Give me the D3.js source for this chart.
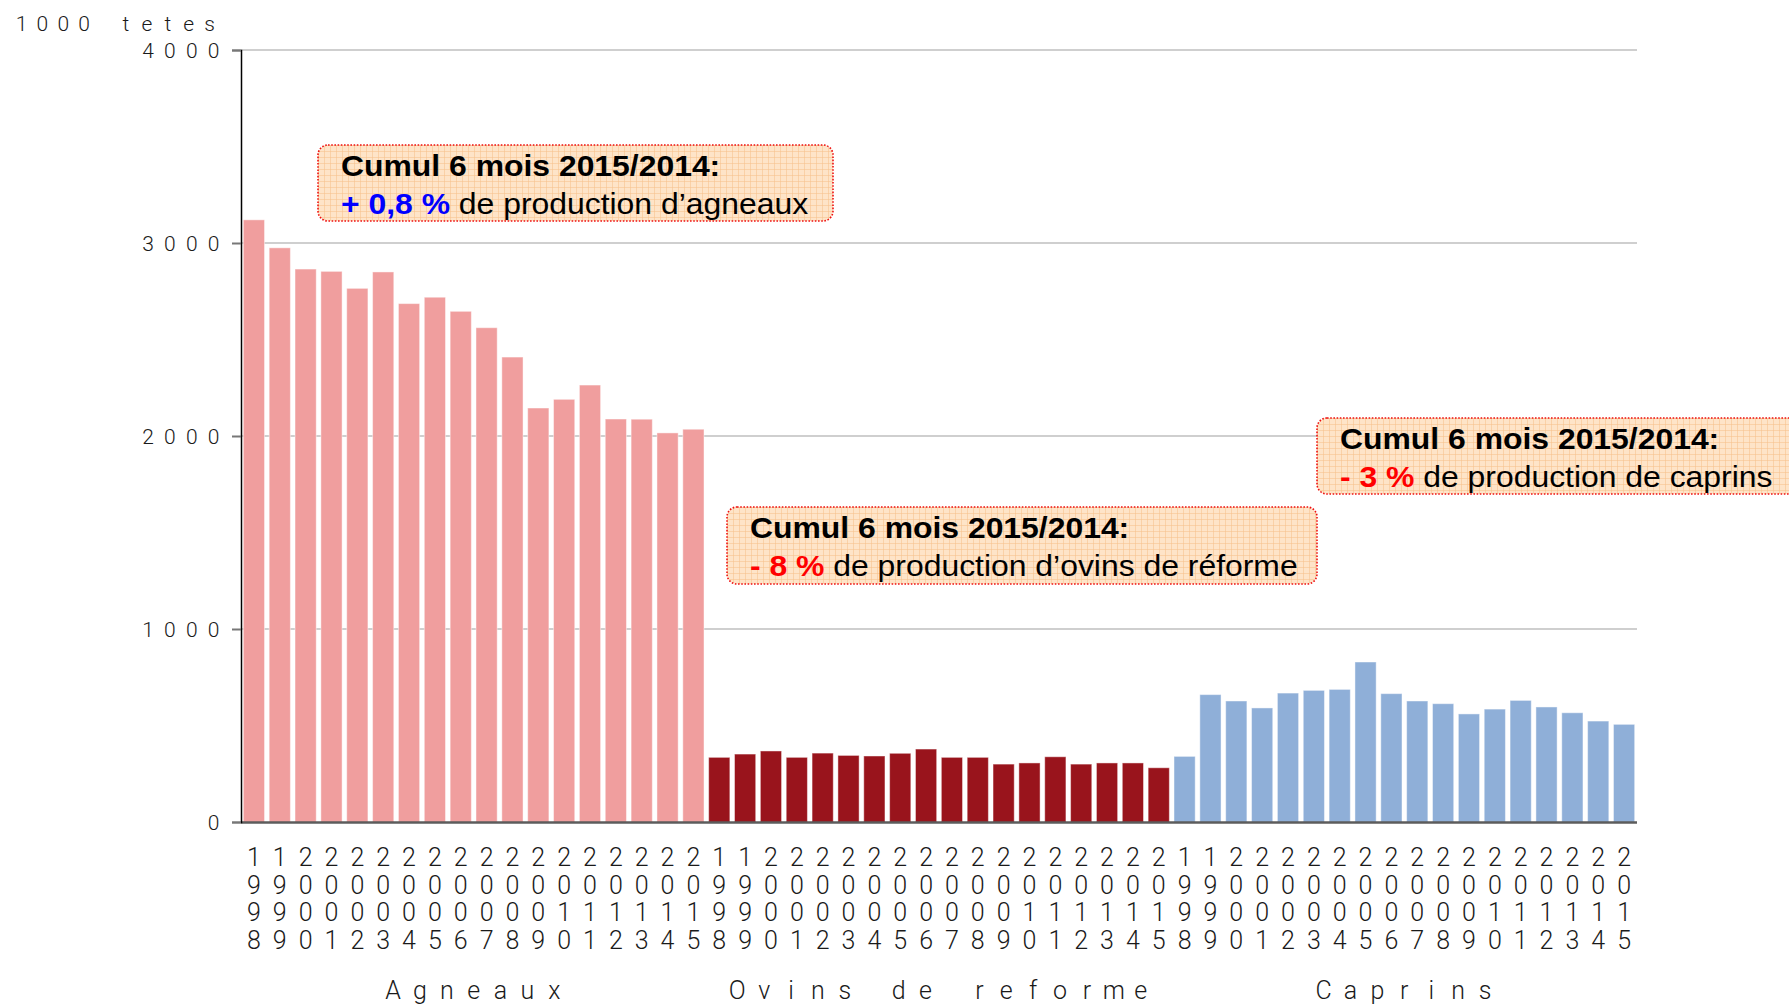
<!DOCTYPE html>
<html>
<head>
<meta charset="utf-8">
<script src="https://cdn.jsdelivr.net/npm/d3@7"></script>
<style>
  body { margin: 0; background: #fff; }
  svg { display: block; }
  .thin { font-family: Roboto, "DejaVu Sans", sans-serif; font-weight: 300; fill: #1a1a1a; }
  .note { font-family: "Liberation Sans", Arial, sans-serif; }
</style>
</head>
<body>
<div id="chart"></div>
<script>
// donnees (1000 tetes)
var years = [1998,1999,2000,2001,2002,2003,2004,2005,2006,2007,2008,2009,2010,2011,2012,2013,2014,2015];
var groups = ["Agneaux", "Ovins de reforme", "Caprins"];
var agneaux = [3120,2975,2865,2853,2765,2850,2686,2719,2646,2561,2409,2145,2190,2264,2088,2087,2016,2035];
var ovins   = [335,352,368,335,357,345,342,356,378,335,335,300,306,338,300,306,306,281];
var caprins = [340,660,627,591,668,682,687,829,665,627,613,560,585,630,596,566,523,506];
var yTicks  = [0,1000,2000,3000,4000];
var colors  = ["#f09e9e", "#99141c", "#8fafd8"];

var W = 1789, H = 1005;
var x0 = 241, x1 = 1637, yTop = 50, yBot = 822;

var series = [agneaux, ovins, caprins];
var data = [];
series.forEach(function(s, g){
  s.forEach(function(v, i){
    data.push({key: groups[g] + "-" + years[i], group: g, year: years[i], value: v});
  });
});

var svg = d3.select("#chart").append("svg").attr("width", W).attr("height", H);

// texte a chasse fixe : chaque caractere centre dans sa cellule
function mono(sel, str, cx0, cell){
  sel.text(null).attr("text-anchor", "middle")
    .selectAll("tspan")
    .data(str.split(""))
    .join("tspan")
    .attr("x", function(c, i){return cx0 + i*cell;})
    .text(function(c){return c;});
}

var x = d3.scaleBand()
  .domain(data.map(function(d){return d.key;}))
  .range([x0, x1])
  .paddingInner(0.18)
  .paddingOuter(0.09);

var y = d3.scaleLinear().domain([0, 4000]).range([yBot, yTop]);

// grille
svg.append("g").selectAll("line")
  .data(yTicks.filter(function(t){return t > 0;}))
  .join("line")
  .attr("x1", x0).attr("x2", x1)
  .attr("y1", function(d){return y(d);}).attr("y2", function(d){return y(d);})
  .style("stroke", "#cfcfcf").style("stroke-width", 2);

// barres
svg.append("g").selectAll("rect")
  .data(data)
  .join("rect")
  .attr("x", function(d){return x(d.key);})
  .attr("y", function(d){return y(d.value);})
  .attr("width", x.bandwidth())
  .attr("height", function(d){return yBot - y(d.value);})
  .style("fill", function(d){return colors[d.group];})
  .style("stroke", "#fff").style("stroke-opacity", 0.45).style("stroke-width", 1);

// ligne de base
svg.append("line")
  .attr("x1", x0).attr("x2", x1).attr("y1", yBot + 0.5).attr("y2", yBot + 0.5)
  .style("stroke", "#4a4a4a").style("stroke-opacity", 0.9).style("stroke-width", 2.5);

// axe y
var yAxis = svg.append("g")
  .attr("transform", "translate(" + x0 + ",0)")
  .call(d3.axisLeft(y).tickValues(yTicks).tickSize(9).tickFormat(d3.format("d")));
yAxis.select(".domain").style("stroke", "#000").style("stroke-width", 1.5);
yAxis.selectAll(".tick line").style("stroke", "#777").style("stroke-width", 2);
yAxis.selectAll(".tick text").each(function(d){
  var s = String(d), cell = 21.8;
  var t = d3.select(this).attr("class", "thin").style("font-size", "21px").attr("dy", "0.36em");
  mono(t, s, -27.5 - (s.length - 1)*cell, cell);
});

mono(svg.append("text").attr("class", "thin").attr("y", 31).style("font-size", "21px"),
  "1000 tetes", 21.5, 20.9);

// etiquettes x (annees en colonne)
var xl = svg.append("g").selectAll("text")
  .data(data)
  .join("text")
  .attr("class", "thin")
  .attr("text-anchor", "middle")
  .style("font-size", "25px");
xl.selectAll("tspan")
  .data(function(d){return String(d.year).split("").map(function(c){return {c: c, x: x(d.key) + x.bandwidth()/2};});})
  .join("tspan")
  .attr("x", function(d){return d.x;})
  .attr("y", function(d, i){return 866 + i*27.5;})
  .text(function(d){return d.c;});

// noms des groupes
groups.forEach(function(g){
  var a = x(g + "-" + years[0]), b = x(g + "-" + years[years.length-1]) + x.bandwidth();
  var cell = 26.9;
  var t = svg.append("text").attr("class", "thin").attr("y", 999).style("font-size", "25px");
  mono(t, g, (a + b)/2 - (g.length - 1)*cell/2, cell);
});

// cadres de commentaires
var defs = svg.append("defs");
var pat = defs.append("pattern").attr("id", "quad")
  .attr("width", 6).attr("height", 6).attr("patternUnits", "userSpaceOnUse");
pat.append("rect").attr("width", 6).attr("height", 6).attr("fill", "#fee4c8");
pat.append("path").attr("d", "M0 0.5H6M0.5 0V6")
  .style("stroke", "#f6c08c").style("stroke-width", 1).style("stroke-opacity", 0.55);

var notes = [
  {x: 318, y: 145, w: 515, h: 76, value: "+ 0,8 %", color: "#0000ff", rest: " de production d\u2019agneaux"},
  {x: 727, y: 507, w: 590, h: 77, value: "- 8 %", color: "#ff0000", rest: " de production d\u2019ovins de r\u00e9forme"},
  {x: 1317, y: 418, w: 500, h: 76, value: "- 3 %", color: "#ff0000", rest: " de production de caprins"}
];

var ng = svg.append("g").selectAll("g").data(notes).join("g")
  .attr("transform", function(d){return "translate(" + d.x + "," + d.y + ")";});
ng.append("rect")
  .attr("width", function(d){return d.w;}).attr("height", function(d){return d.h;})
  .attr("rx", 10).attr("ry", 10)
  .style("fill", "url(#quad)")
  .style("stroke", "#ee1111").style("stroke-width", 1.6).style("stroke-dasharray", "1.6,1.6");
var nt = ng.append("g").attr("transform", "translate(23,0) scale(1.1,1)");
nt.append("text").attr("class", "note")
  .attr("y", 31)
  .style("font-size", "29px").style("font-weight", "bold").style("fill", "#000")
  .text("Cumul 6 mois 2015/2014:");
var l2 = nt.append("text").attr("class", "note").attr("y", 69).style("font-size", "29px");
l2.append("tspan").style("font-weight", "bold").style("fill", function(d){return d.color;}).text(function(d){return d.value;});
l2.append("tspan").style("fill", "#000").text(function(d){return d.rest;});
</script>
</body>
</html>
